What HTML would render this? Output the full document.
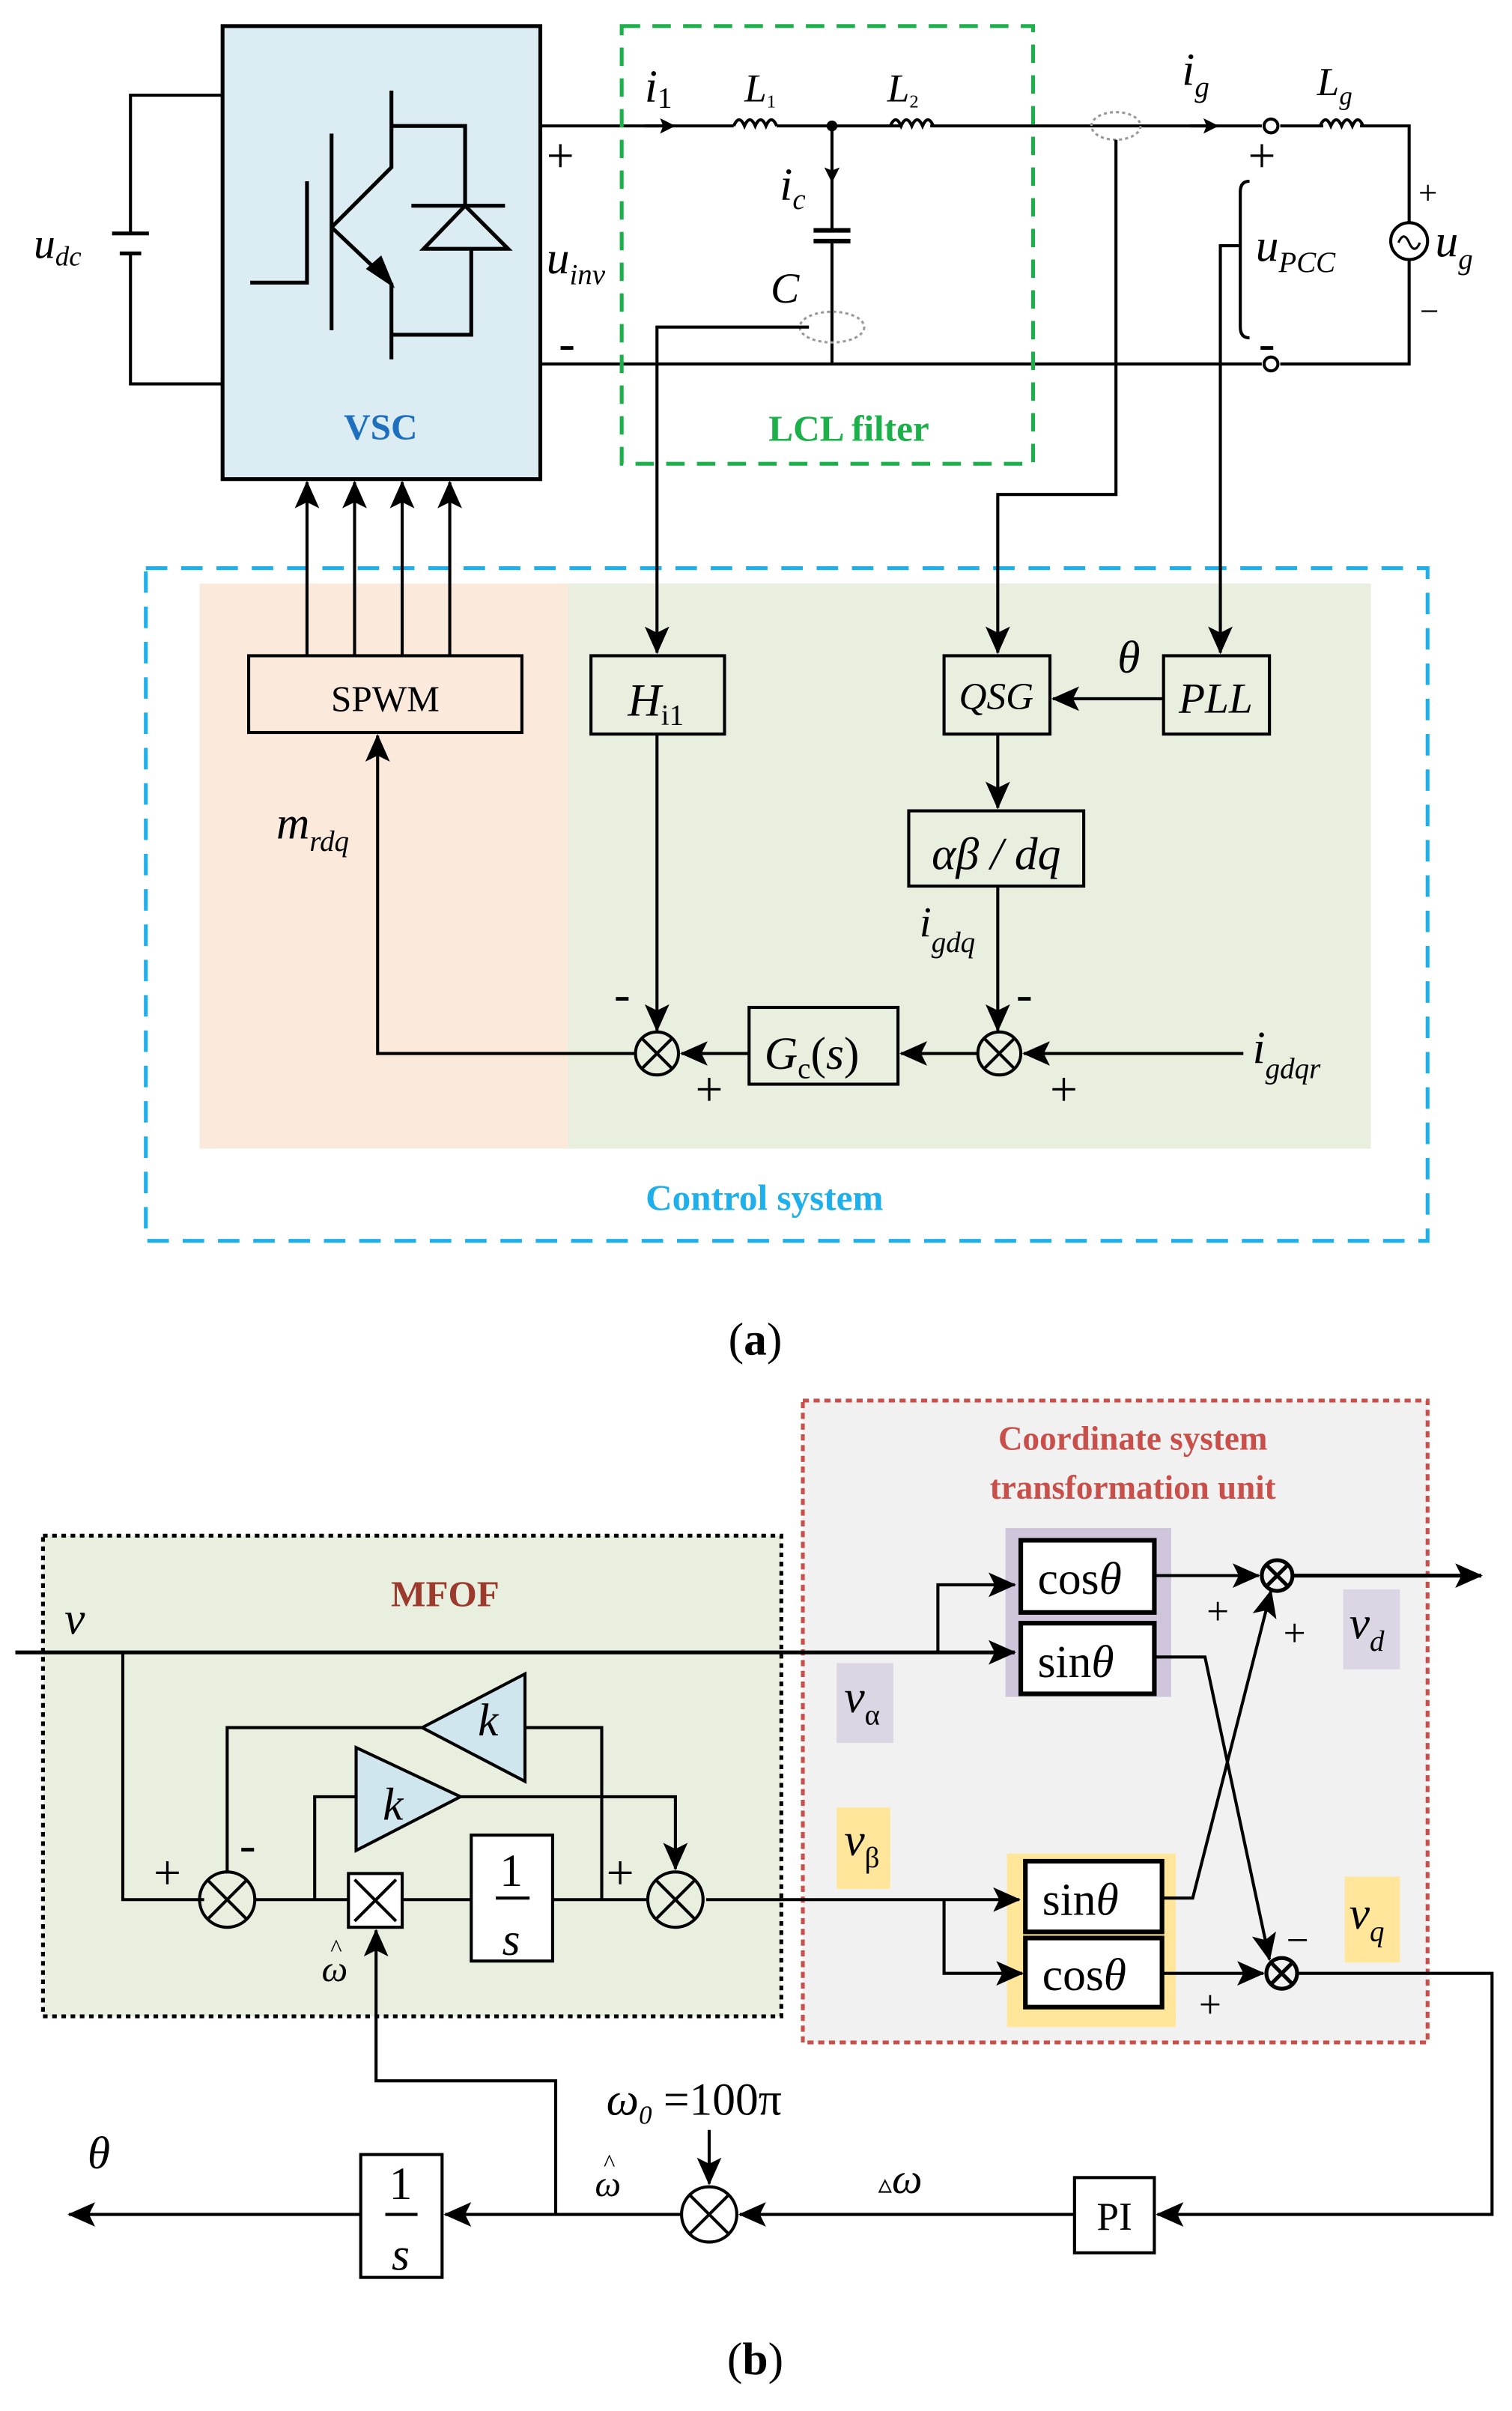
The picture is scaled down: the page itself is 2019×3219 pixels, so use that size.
<!DOCTYPE html>
<html><head><meta charset="utf-8"><style>
html,body{margin:0;padding:0;background:#fff;}
svg{display:block;}
text{font-family:"Liberation Serif",serif;fill:#000;}
.it{font-style:italic;}
</style></head><body>
<svg width="2019" height="3219" viewBox="0 0 985 1570" preserveAspectRatio="none" xmlns="http://www.w3.org/2000/svg">
<defs>
<marker id="a" markerWidth="10" markerHeight="10" refX="9" refY="5" orient="auto" markerUnits="userSpaceOnUse"><path d="M0,0 L10,5 L0,10 L2,5 z" fill="#000"/></marker>
<marker id="A" markerWidth="18" markerHeight="16" refX="17" refY="8" orient="auto" markerUnits="userSpaceOnUse"><path d="M0,0 L18,8 L0,16 L4,8 z" fill="#000"/></marker>
</defs>
<g stroke="#000" stroke-width="2" fill="none">
<!-- ===== (a) ===== -->
<rect x="145" y="17" width="207" height="295" fill="#dbedf3" stroke-width="2.5"/>
<path d="M145,62 H85 V152 M85,165 V250 H145"/>
<path d="M73,152 H97 M78,165 H92" stroke-width="2.5"/>
<path d="M163,184 H200 V118 M216,87 V215 M255,59 V109 L216,148 M216,148 L255,185 V234 M255,82 H303 V134 M268,134 H329 M276,162 H331 L303,134 Z M307,162 V218 H255" stroke-width="2.5"/>
<path d="M255,185 L240,175 L248,168 Z" fill="#000"/>
<path d="M352,82 H478 M506,82 H588 M606,82 H822 M834,82 H862 M886,82 H918 V145 M918,170 V237 H834 M822,237 H352"/>
<path d="M478,82 q3.5,-8 7,0 q3.5,-8 7,0 q3.5,-8 7,0 q3.5,-8 7,0"/>
<path d="M580,82 q3.5,-8 7,0 q3.5,-8 7,0 q3.5,-8 7,0 q3.5,-8 7,0"/>
<path d="M860,82 q3.5,-8 7,0 q3.5,-8 7,0 q3.5,-8 7,0 q3.5,-8 7,0"/>
<circle cx="542" cy="82" r="2.5" fill="#000"/>
<path d="M542,82 V118" marker-end="url(#a)"/>
<path d="M542,118 V150 M542,157 V237"/>
<path d="M530,150 H554 M530,157 H554" stroke-width="3"/>
<path d="M420,82 H439" marker-end="url(#a)"/>
<path d="M775,82 H793" marker-end="url(#a)"/>
<circle cx="828" cy="82" r="4.5" fill="#fff"/>
<circle cx="828" cy="237" r="4.5" fill="#fff"/>
<circle cx="918" cy="157" r="12"/>
<path d="M911,158 q3.5,-8 7,0 q3.5,8 7,0" stroke-width="1.5"/>
<ellipse cx="727" cy="82" rx="16" ry="9" stroke="#999" stroke-width="1.5" stroke-dasharray="2,2"/>
<ellipse cx="542" cy="213" rx="21" ry="10" stroke="#999" stroke-width="1.5" stroke-dasharray="2,2"/>
<path d="M814,118 Q808,118 808,125 V213 Q808,220 814,220"/>
<rect x="405" y="17" width="268" height="285" stroke="#1bb04a" stroke-width="2.5" stroke-dasharray="12,8"/>
<rect x="130" y="380" width="240" height="368" fill="#fbe9dc" stroke="none"/>
<rect x="370" y="380" width="523" height="368" fill="#e8efdf" stroke="none"/>
<rect x="95" y="370" width="835" height="438" stroke="#1fb0ec" stroke-width="2.5" stroke-dasharray="14,9"/>
<path d="M527,213 H428 V425" marker-end="url(#A)"/>
<path d="M727,91 V322 H650 V425" marker-end="url(#A)"/>
<path d="M808,160 H795 V425" marker-end="url(#A)"/>
<rect x="162" y="427" width="178" height="50"/>
<rect x="385" y="427" width="87" height="51"/>
<rect x="615" y="427" width="69" height="51"/>
<rect x="758" y="427" width="69" height="51"/>
<rect x="592" y="528" width="114" height="49"/>
<rect x="488" y="656" width="97" height="50"/>
<path d="M200,427 V314" marker-end="url(#A)"/>
<path d="M231,427 V314" marker-end="url(#A)"/>
<path d="M262,427 V314" marker-end="url(#A)"/>
<path d="M293,427 V314" marker-end="url(#A)"/>
<path d="M758,455 H686" marker-end="url(#A)"/>
<path d="M650,478 V526" marker-end="url(#A)"/>
<path d="M650,577 V671" marker-end="url(#A)"/>
<path d="M428,478 V671" marker-end="url(#A)"/>
<path d="M810,686 H667" marker-end="url(#A)"/>
<path d="M637,686 H587" marker-end="url(#A)"/>
<path d="M488,686 H444" marker-end="url(#A)"/>
<path d="M414,686 H246 V479" marker-end="url(#A)"/>
<circle cx="428" cy="686" r="14" fill="none"/>
<path d="M418,676 L438,696 M438,676 L418,696"/>
<circle cx="651" cy="686" r="14" fill="none"/>
<path d="M641,676 L661,696 M661,676 L641,696"/>
<!-- ===== (b) ===== -->
<rect x="28" y="1000" width="481" height="313" fill="#e8efdf" stroke-width="2.5" stroke-dasharray="3,3"/>
<rect x="523" y="912" width="407" height="418" fill="#f1f1f1" stroke="#c9504a" stroke-width="2.5" stroke-dasharray="4,3"/>
<rect x="655" y="995" width="108" height="110" fill="#d0c6dc" stroke="none"/>
<rect x="656" y="1207" width="110" height="113" fill="#ffe69a" stroke="none"/>
<rect x="545" y="1083" width="37" height="52" fill="#dcd5e4" stroke="none"/>
<rect x="875" y="1035" width="37" height="52" fill="#dcd5e4" stroke="none"/>
<rect x="545" y="1177" width="35" height="53" fill="#ffe69a" stroke="none"/>
<rect x="876" y="1222" width="36" height="56" fill="#ffe69a" stroke="none"/>
<rect x="665" y="1003" width="87" height="47" fill="#fff" stroke-width="3"/>
<rect x="665" y="1057" width="87" height="46" fill="#fff" stroke-width="3"/>
<rect x="668" y="1212" width="89" height="46" fill="#fff" stroke-width="3"/>
<rect x="668" y="1262" width="89" height="45" fill="#fff" stroke-width="3"/>
<path d="M10,1076 H661" marker-end="url(#A)" stroke-width="2.5"/>
<path d="M611,1076 V1032 H661" marker-end="url(#A)"/>
<path d="M752,1026 H820" marker-end="url(#A)"/>
<path d="M842,1026 H965" marker-end="url(#A)" stroke-width="2.5"/>
<path d="M752,1079 H785 L827,1276" marker-end="url(#A)"/>
<path d="M757,1236 H777 L828,1036" marker-end="url(#A)"/>
<path d="M460,1237 H664" marker-end="url(#A)"/>
<path d="M615,1237 V1285 H666" marker-end="url(#A)"/>
<path d="M757,1285 H823" marker-end="url(#A)"/>
<path d="M845,1285 H972 V1442 H754" marker-end="url(#A)"/>
<circle cx="832" cy="1026" r="10" fill="none" stroke-width="2.5"/>
<path d="M825,1019 L839,1033 M839,1019 L825,1033" stroke-width="2.5"/>
<circle cx="835" cy="1285" r="10" fill="none" stroke-width="2.5"/>
<path d="M828,1278 L842,1292 M842,1278 L828,1292" stroke-width="2.5"/>
<path d="M80,1076 V1237 H133"/>
<circle cx="148" cy="1237" r="18"/>
<path d="M135,1224 L161,1250 M161,1224 L135,1250"/>
<circle cx="440" cy="1237" r="18"/>
<path d="M427,1224 L453,1250 M453,1224 L427,1250"/>
<path d="M166,1237 H227 M262,1237 H307 M360,1237 H422"/>
<rect x="227" y="1220" width="35" height="35" fill="#fff"/>
<path d="M231,1224 L258,1251 M258,1224 L231,1251"/>
<rect x="307" y="1195" width="53" height="82" fill="#fff"/>
<path d="M323,1236 H345"/>
<path d="M148,1219 V1125 H275 M342,1125 H392 V1237"/>
<path d="M342,1090 L342,1160 L275,1125 Z" fill="#cfe6ee"/>
<path d="M232,1138 L232,1205 L300,1170 Z" fill="#cfe6ee"/>
<path d="M205,1237 V1170 H232"/>
<path d="M300,1170 H440 V1217" marker-end="url(#A)"/>
<path d="M362,1442 V1355 H245 V1257" marker-end="url(#A)"/>
<rect x="700" y="1418" width="52" height="49"/>
<circle cx="462" cy="1442" r="18"/>
<path d="M449,1429 L475,1455 M475,1429 L449,1455"/>
<path d="M700,1442 H482" marker-end="url(#A)"/>
<path d="M462,1387 V1422" marker-end="url(#A)"/>
<path d="M444,1442 H290" marker-end="url(#A)"/>
<rect x="235" y="1403" width="53" height="80"/>
<path d="M251,1442 H272"/>
<path d="M235,1442 H45" marker-end="url(#A)"/>
</g>
<text x="22" y="168" font-size="28" class="it">u<tspan font-size="18" dy="5">dc</tspan></text>
<text x="248" y="286" font-size="24" font-weight="bold" text-anchor="middle" style="fill:#1f6fbf">VSC</text>
<text x="553" y="287" font-size="24" font-weight="bold" text-anchor="middle" style="fill:#1bb04a">LCL filter</text>
<text x="498" y="788" font-size="24" font-weight="bold" text-anchor="middle" style="fill:#1fb0ec">Control system</text>
<text x="356" y="112" font-size="32">+</text>
<text x="364" y="234" font-size="32">-</text>
<text x="356" y="178" font-size="30" class="it">u<tspan font-size="19" dy="7">inv</tspan></text>
<text x="420" y="66" font-size="30" class="it">i<tspan font-size="19" dy="4" font-style="normal">1</tspan></text>
<text x="485" y="66" font-size="26" class="it">L<tspan font-size="12" dy="4" font-style="normal">1</tspan></text>
<text x="578" y="66" font-size="26" class="it">L<tspan font-size="12" dy="4" font-style="normal">2</tspan></text>
<text x="508" y="130" font-size="30" class="it">i<tspan font-size="19" dy="6">c</tspan></text>
<text x="502" y="197" font-size="28" class="it">C</text>
<text x="770" y="55" font-size="30" class="it">i<tspan font-size="19" dy="8">g</tspan></text>
<text x="858" y="62" font-size="26" class="it">L<tspan font-size="17" dy="6">g</tspan></text>
<text x="813" y="112" font-size="32">+</text>
<text x="820" y="234" font-size="32">-</text>
<text x="818" y="170" font-size="30" class="it">u<tspan font-size="19" dy="7">PCC</tspan></text>
<text x="924" y="133" font-size="22">+</text>
<text x="925" y="210" font-size="22">−</text>
<text x="935" y="167" font-size="30" class="it">u<tspan font-size="19" dy="8">g</tspan></text>
<text x="251" y="463" font-size="24" text-anchor="middle">SPWM</text>
<text x="409" y="466" font-size="30" class="it">H<tspan font-size="19" dy="6" font-style="normal">i1</tspan></text>
<text x="649" y="462" font-size="25" class="it" text-anchor="middle">QSG</text>
<text x="792" y="464" font-size="28" class="it" text-anchor="middle">PLL</text>
<text x="728" y="438" font-size="30" class="it">θ</text>
<text x="649" y="566" font-size="30" class="it" text-anchor="middle">αβ / dq</text>
<text x="599" y="610" font-size="28" class="it">i<tspan font-size="19" dy="10">gdq</tspan></text>
<text x="180" y="546" font-size="30" class="it">m<tspan font-size="19" dy="8">rdq</tspan></text>
<text x="816" y="692" font-size="30" class="it">i<tspan font-size="19" dy="10">gdqr</tspan></text>
<text x="498" y="696" font-size="30" class="it">G<tspan font-size="19" dy="6" font-style="normal">c</tspan><tspan dy="-6" font-style="normal">(</tspan>s<tspan font-style="normal">)</tspan></text>
<text x="400" y="658" font-size="32">-</text>
<text x="662" y="658" font-size="32">-</text>
<text x="453" y="720" font-size="32">+</text>
<text x="684" y="720" font-size="32">+</text>
<text x="492" y="882" font-size="30" text-anchor="middle">(<tspan font-weight="bold">a</tspan>)</text>
<text x="738" y="944" font-size="22" font-weight="bold" text-anchor="middle" style="fill:#c9504a">Coordinate system</text>
<text x="738" y="976" font-size="22" font-weight="bold" text-anchor="middle" style="fill:#c9504a">transformation unit</text>
<text x="290" y="1046" font-size="24" font-weight="bold" text-anchor="middle" style="fill:#9c3a2e">MFOF</text>
<text x="42" y="1064" font-size="30" class="it">v</text>
<text x="676" y="1038" font-size="30">cos<tspan class="it">θ</tspan></text>
<text x="676" y="1092" font-size="30">sin<tspan class="it">θ</tspan></text>
<text x="679" y="1247" font-size="30">sin<tspan class="it">θ</tspan></text>
<text x="679" y="1296" font-size="30">cos<tspan class="it">θ</tspan></text>
<text x="550" y="1115" font-size="30" class="it">v<tspan font-size="19" dy="8" font-style="normal">α</tspan></text>
<text x="550" y="1208" font-size="30" class="it">v<tspan font-size="19" dy="8" font-style="normal">β</tspan></text>
<text x="879" y="1067" font-size="30" class="it">v<tspan font-size="19" dy="8">d</tspan></text>
<text x="879" y="1256" font-size="30" class="it">v<tspan font-size="19" dy="8">q</tspan></text>
<text x="786" y="1058" font-size="26">+</text>
<text x="836" y="1072" font-size="26">+</text>
<text x="838" y="1272" font-size="26">−</text>
<text x="781" y="1314" font-size="26">+</text>
<text x="318" y="1130" font-size="30" class="it" text-anchor="middle">k</text>
<text x="256" y="1185" font-size="30" class="it" text-anchor="middle">k</text>
<text x="100" y="1230" font-size="32">+</text>
<text x="156" y="1212" font-size="32">-</text>
<text x="395" y="1230" font-size="32">+</text>
<text x="333" y="1228" font-size="30" text-anchor="middle">1</text>
<text x="333" y="1273" font-size="30" class="it" text-anchor="middle">s</text>
<text x="218" y="1290" font-size="24" class="it" text-anchor="middle">ω</text>
<text x="219" y="1274" font-size="16" text-anchor="middle">^</text>
<text x="396" y="1430" font-size="24" class="it" text-anchor="middle">ω</text>
<text x="397" y="1414" font-size="16" text-anchor="middle">^</text>
<text x="395" y="1377" font-size="30" class="it">ω<tspan font-size="17" dy="6">0</tspan><tspan dy="-6" font-style="normal"> =100π</tspan></text>
<text x="572" y="1428" font-size="18">▵<tspan font-size="28" class="it">ω</tspan></text>
<text x="726" y="1452" font-size="26" text-anchor="middle">PI</text>
<text x="261" y="1432" font-size="30" text-anchor="middle">1</text>
<text x="261" y="1478" font-size="30" class="it" text-anchor="middle">s</text>
<text x="57" y="1412" font-size="30" class="it">θ</text>
<text x="492" y="1546" font-size="30" text-anchor="middle">(<tspan font-weight="bold">b</tspan>)</text>
</svg>
</body></html>
